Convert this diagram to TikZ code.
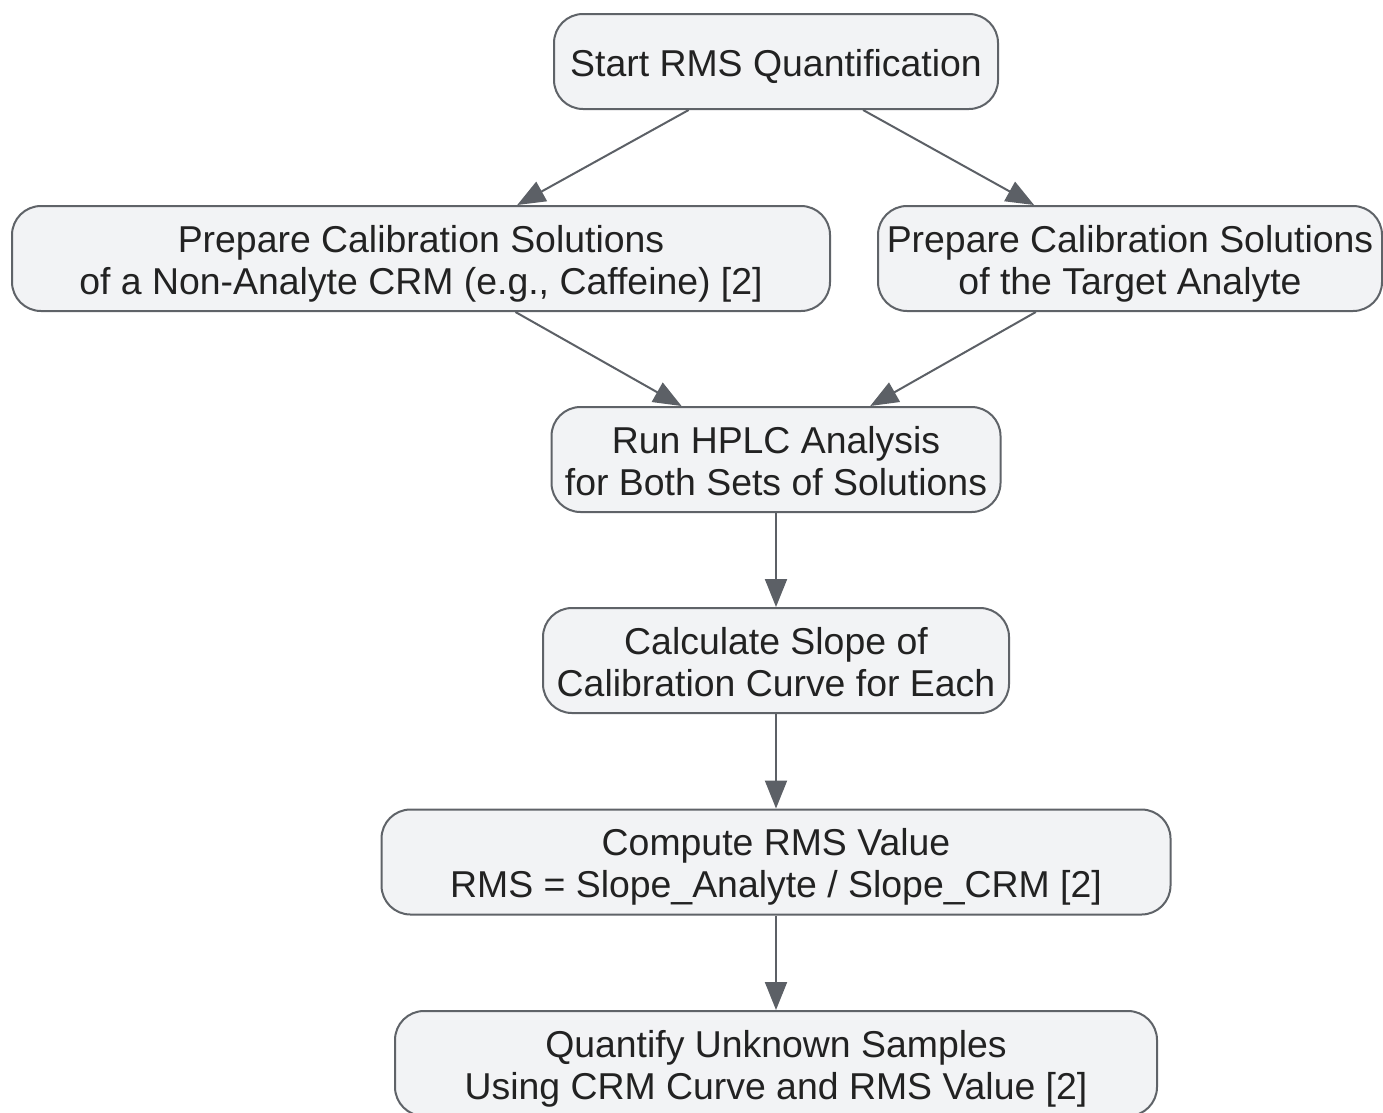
\documentclass[tikz,border=0pt]{standalone}
\usepackage{fontspec}
\setmainfont{Liberation Sans}
\usetikzlibrary{arrows.meta}

\definecolor{boxfill}{RGB}{242,243,245}
\definecolor{boxline}{RGB}{95,99,104}
\definecolor{boxtext}{RGB}{34,34,34}
\definecolor{arrowgray}{RGB}{92,96,102}

\begin{document}
\begin{tikzpicture}[x=1pt,y=-1pt,
	stepbox/.style={draw=boxline,line width=2pt,fill=boxfill,rounded corners=29pt,
		text=boxtext,align=center,inner sep=0pt,minimum height=105pt,
		font=\fontsize{37.4}{42}\selectfont,text height=79.5pt,text depth=8pt},
	flow/.style={color=arrowgray,line width=2pt,-{Triangle[length=28pt,width=22pt]}}]
	\useasboundingbox (0,0) rectangle (1383,1112);

	\node[stepbox,minimum width=444pt,minimum height=95pt,text height=37.5pt] (start) at (776,61.5) {Start RMS Quantification};
	\node[stepbox,minimum width=818pt] (crm) at (421,258.5) {Prepare Calibration Solutions\\of a Non-Analyte CRM (e.g., Caffeine) [2]};
	\node[stepbox,minimum width=504pt] (target) at (1130,258.5) {Prepare Calibration Solutions\\of the Target Analyte};
	\node[stepbox,minimum width=449pt] (hplc) at (776,459.5) {Run HPLC Analysis\\for Both Sets of Solutions};
	\node[stepbox,minimum width=466pt] (slope) at (776,660.5) {Calculate Slope of\\Calibration Curve for Each};
	\node[stepbox,minimum width=789pt] (rms) at (776,862) {Compute RMS Value\\RMS = Slope\_Analyte / Slope\_CRM [2]};
	\node[stepbox,minimum width=762pt] (quant) at (776,1063.5) {Quantify Unknown Samples\\Using CRM Curve and RMS Value [2]};

	\path [flow] (start) edge (crm);
	\path [flow] (start) edge (target);
	\path [flow] (crm) edge (hplc);
	\path [flow] (target) edge (hplc);
	\path [flow] (hplc) edge (slope);
	\path [flow] (slope) edge (rms);
	\path [flow] (rms) edge (quant);
\end{tikzpicture}
\end{document}
